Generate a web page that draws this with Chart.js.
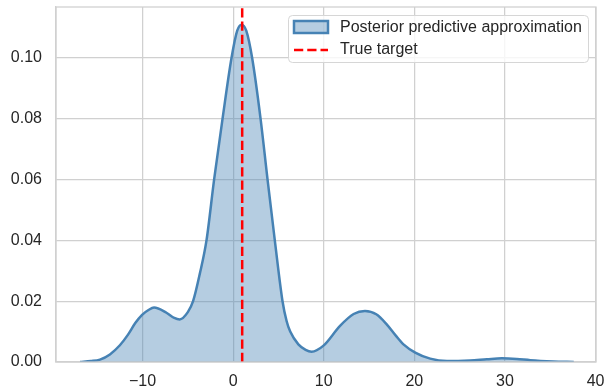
<!DOCTYPE html>
<html lang="en">
<head>
    <meta charset="UTF-8">
    <title>Posterior predictive</title>
    <script src="https://cdn.jsdelivr.net/npm/chart.js"></script>
    <style>
        html, body { margin: 0; padding: 0; background: #fff; }
        #wrap { width: 607px; height: 391px; }
    </style>
</head>
<body>
    <div id="wrap"><canvas id="kdeChart"></canvas></div>
    <script>
        // density curve
        const kdeX = [-16.9, -15.7, -14.7, -13.6, -12.5, -11.6, -10.8, -10.05, -9.3, -8.73, -7.36, -6.5, -5.9, -5.0, -4.42, -3.68, -2.94, -2.1, -1.17, -0.18, 0.45, 0.93, 1.45, 2.1, 3.03, 3.8, 4.6, 5.45, 5.9, 6.3, 7.2, 8.0, 8.66, 9.94, 11.8, 13.3, 14.55, 15.8, 16.95, 18.0, 18.8, 20.1, 21.75, 23.6, 26.15, 28.0, 29.65, 31.3, 32.8, 35.3, 37.6];
        const kdeY = [0.0000, 0.0003, 0.0008, 0.0025, 0.0055, 0.0090, 0.0128, 0.0155, 0.0172, 0.0179, 0.0162, 0.0145, 0.0140, 0.0164, 0.0200, 0.0290, 0.0400, 0.0600, 0.0800, 0.1000, 0.1090, 0.1110, 0.1090, 0.1000, 0.0800, 0.0600, 0.0400, 0.0200, 0.0135, 0.0100, 0.0058, 0.0040, 0.0034, 0.0053, 0.0119, 0.0158, 0.0168, 0.0157, 0.0124, 0.0085, 0.0058, 0.0031, 0.0011, 0.0003, 0.0005, 0.0009, 0.0012, 0.0010, 0.0006, 0.0002, 0.0000];
        const trueTarget = 1.0;
        const xTicks = [-10, 0, 10, 20, 30, 40];
        const yTicks = [0.00, 0.02, 0.04, 0.06, 0.08, 0.10];
        const labels = ['Posterior predictive approximation', 'True target'];

        const xMin = -19.55, xMax = 40.05;
        const yMin = 0, yMax = 0.1168;

        const blue = '#4682b4';
        const blueFill = 'rgba(70,130,180,0.4)';
        const gridCol = '#d0d0d0';
        const textCol = '#262626';
        const font = { family: '"Liberation Sans", Arial, sans-serif', size: 16 };

        const curve = kdeX.map((x, i) => ({ x: x, y: kdeY[i] }));

        // spines on all four sides, like seaborn whitegrid
        const frame = {
            id: 'frame',
            afterDatasetsDraw(chart) {
                const a = chart.chartArea, c = chart.ctx;
                c.save();
                c.strokeStyle = gridCol;
                c.lineWidth = 1.25;
                c.strokeRect(a.left, a.top, a.right - a.left, a.bottom - a.top);
                c.restore();
            }
        };

        // legend drawn inside the plot, top right
        const boxLegend = {
            id: 'boxLegend',
            afterDraw(chart) {
                const c = chart.ctx;
                const x0 = 288, y0 = 15, w = 300, h = 47;
                c.save();
                c.fillStyle = 'rgba(255,255,255,0.8)';
                c.strokeStyle = '#d6d6d6';
                c.lineWidth = 1;
                c.beginPath();
                c.roundRect(x0 + 0.5, y0 + 0.5, w, h, 4);
                c.fill();
                c.stroke();

                c.fillStyle = blueFill;
                c.fillRect(294, 21, 34, 12);
                c.strokeStyle = blue;
                c.lineWidth = 2.5;
                c.strokeRect(294, 21, 34, 12);

                c.strokeStyle = 'red';
                c.lineWidth = 2.5;
                c.setLineDash([9.25, 4]);
                c.beginPath();
                c.moveTo(294, 50);
                c.lineTo(328, 50);
                c.stroke();
                c.setLineDash([]);

                c.fillStyle = textCol;
                c.font = font.size + 'px ' + font.family;
                c.textBaseline = 'middle';
                c.fillText(labels[0], 340, 28);
                c.fillText(labels[1], 340, 50);
                c.restore();
            }
        };

        const ctx = document.getElementById('kdeChart').getContext('2d');
        const chart = new Chart(ctx, {
            type: 'line',
            data: {
                datasets: [{
                    label: labels[1],
                    data: [{ x: trueTarget, y: yMin }, { x: trueTarget, y: yMax }],
                    borderColor: 'red',
                    borderWidth: 2.5,
                    borderDash: [9.25, 4],
                    pointRadius: 0,
                    fill: false,
                    order: 0
                }, {
                    label: labels[0],
                    data: curve,
                    borderColor: blue,
                    backgroundColor: blueFill,
                    borderWidth: 2.5,
                    pointRadius: 0,
                    cubicInterpolationMode: 'monotone',
                    fill: 'origin',
                    order: 1
                }]
            },
            options: {
                responsive: true,
                maintainAspectRatio: false,
                animation: false,
                layout: { padding: { top: 7, right: 11, left: 0, bottom: 0 } },
                plugins: { legend: { display: false }, tooltip: { enabled: false } },
                scales: {
                    x: {
                        type: 'linear',
                        min: xMin,
                        max: xMax,
                        afterBuildTicks(axis) { axis.ticks = xTicks.map(v => ({ value: v })); },
                        afterFit(axis) {
                            axis.height = 29;
                            axis.paddingLeft = 0;
                            axis.paddingRight = 0;
                        },
                        ticks: {
                            color: textCol,
                            font: font,
                            padding: 10,
                            maxRotation: 0,
                            callback: v => String(v).replace('-', '\u2212')
                        },
                        grid: { color: gridCol, lineWidth: 1.25, drawTicks: false },
                        border: { color: gridCol, width: 1.25 }
                    },
                    y: {
                        min: yMin,
                        max: yMax,
                        afterBuildTicks(axis) { axis.ticks = yTicks.map(v => ({ value: v })); },
                        afterFit(axis) {
                            axis.width = 56;
                            axis.paddingTop = 0;
                            axis.paddingBottom = 0;
                        },
                        ticks: {
                            color: textCol,
                            font: font,
                            padding: 14,
                            callback: v => v.toFixed(2)
                        },
                        grid: { color: gridCol, lineWidth: 1.25, drawTicks: false },
                        border: { color: gridCol, width: 1.25 }
                    }
                }
            },
            plugins: [frame, boxLegend]
        });
    </script>
</body>
</html>
